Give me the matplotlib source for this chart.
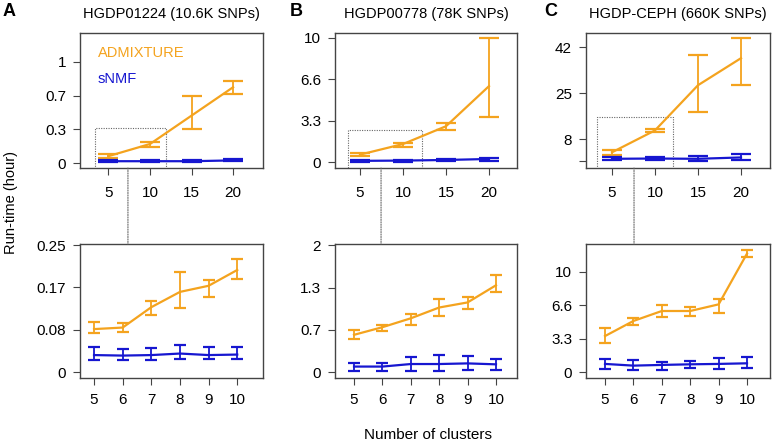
import matplotlib
matplotlib.use("Agg")
import numpy as np
import matplotlib.pyplot as plt
from matplotlib.patches import Rectangle, ConnectionPatch

plt.rcParams["font.family"] = ["Liberation Sans", "DejaVu Sans"]

# ==============================
# data (run-time in hours)
# ==============================
panel_letters = ["A", "B", "C"]
titles = ["HGDP01224 (10.6K SNPs)", "HGDP00778 (78K SNPs)", "HGDP-CEPH (660K SNPs)"]

k_top = [5, 10, 15, 20]
k_bot = [5, 6, 7, 8, 9, 10]

# top row: K = 5, 10, 15, 20
admix_top    = [[0.07, 0.19, 0.47, 0.75], [0.60, 1.45, 2.88, 6.10], [3.2, 11.3, 28.0, 38.0]]
admix_top_lo = [[0.055, 0.165, 0.34, 0.685], [0.50, 1.25, 2.61, 3.65], [2.3, 10.8, 18.0, 27.9]]
admix_top_hi = [[0.09, 0.21, 0.66, 0.81], [0.75, 1.55, 3.17, 10.0], [4.0, 12.0, 39.0, 45.4]]
snmf_top     = [[0.02, 0.02, 0.02, 0.028], [0.10, 0.12, 0.17, 0.25], [0.8, 0.9, 0.8, 1.3]]
snmf_top_lo  = [[0.01, 0.01, 0.01, 0.018], [0.03, 0.04, 0.08, 0.12], [0.3, 0.4, 0.0, 0.5]]
snmf_top_hi  = [[0.035, 0.035, 0.03, 0.038], [0.17, 0.20, 0.28, 0.35], [1.3, 1.5, 1.7, 2.5]]

# bottom row: zoom on K = 5..10
admix_bot    = [[0.085, 0.088, 0.128, 0.158, 0.170, 0.201],
                [0.59, 0.71, 0.85, 1.02, 1.10, 1.37],
                [3.6, 5.1, 6.09, 6.09, 6.75, 11.8]]
admix_bot_lo = [[0.077, 0.080, 0.112, 0.126, 0.147, 0.183],
                [0.53, 0.65, 0.74, 0.885, 0.995, 1.27],
                [2.95, 4.7, 5.53, 5.6, 5.86, 11.5]]
admix_bot_hi = [[0.0995, 0.096, 0.141, 0.198, 0.181, 0.223],
                [0.665, 0.74, 0.92, 1.15, 1.19, 1.53],
                [4.37, 5.36, 6.69, 6.46, 7.25, 12.2]]
snmf_bot     = [[0.034, 0.033, 0.034, 0.037, 0.034, 0.035],
                [0.09, 0.09, 0.13, 0.13, 0.14, 0.125],
                [0.83, 0.66, 0.73, 0.79, 0.83, 0.89]]
snmf_bot_lo  = [[0.024, 0.024, 0.024, 0.026, 0.026, 0.026],
                [0.026, 0.026, 0.026, 0.026, 0.037, 0.037],
                [0.33, 0.23, 0.23, 0.40, 0.30, 0.40]]
snmf_bot_hi  = [[0.049, 0.045, 0.048, 0.054, 0.049, 0.050],
                [0.15, 0.15, 0.246, 0.27, 0.26, 0.21],
                [1.32, 1.22, 1.06, 1.16, 1.39, 1.56]]

top_yticks = [[0, 1/3, 2/3, 1], [0, 10/3, 20/3, 10], [0, 8, 25, 42]]
top_yticklabels = [["0", "0.3", "0.7", "1"], ["0", "3.3", "6.6", "10"], ["", "8", "25", "42"]]
bot_yticks = [[0, 1/12, 1/6, 0.25], [0, 2/3, 4/3, 2], [0, 10/3, 20/3, 10]]
bot_yticklabels = [["0", "0.08", "0.17", "0.25"], ["0", "0.7", "1.3", "2"], ["0", "3.3", "6.6", "10"]]

# ==============================
# layout (pixels of a 772x442 canvas)
# ==============================
W, H = 772, 442
lefts = [80, 335, 586]
widths = [183, 182, 184]
top_y0, top_y1 = 33, 168
bot_y0, bot_y1 = 244, 378

xlim_top = [(1.57, 23.6), (2.09, 23.26), (1.98, 23.37)]
ylim_top = [(-0.047, 1.285), (-0.475, 10.37), (-2.6, 47.3)]
xlim_bot = [(4.51, 10.9), (4.33, 10.74), (4.33, 10.81)]
ylim_bot = [(-0.011, 0.252), (-0.09, 2.02), (-0.57, 12.75)]

zoom_box = [(3.38, 11.93, 0.35), (3.6, 12.2, 2.6), (3.26, 12.1, 16.4)]
link_frac = [0.262, 0.253, 0.261]

ORANGE = "#F4A31E"
BLUE = "#1616D0"
FRAME = "#444444"
GREY = "#666666"


def style_axes(ax, pad_x):
    for s in ax.spines.values():
        s.set_color(FRAME)
        s.set_linewidth(1.0)
    ax.tick_params(direction="out", length=5, width=0.8, color=FRAME, labelsize=11)
    ax.tick_params(axis="x", pad=pad_x)
    ax.tick_params(axis="y", pad=5)


fig = plt.figure(figsize=(W / 100, H / 100), dpi=100)

for i in range(3):
    ax_t = fig.add_axes([lefts[i] / W, 1 - top_y1 / H, widths[i] / W, (top_y1 - top_y0) / H])
    ax_b = fig.add_axes([lefts[i] / W, 1 - bot_y1 / H, widths[i] / W, (bot_y1 - bot_y0) / H])

    # ---- top panel ----
    m, lo, hi = np.array(admix_top[i]), np.array(admix_top_lo[i]), np.array(admix_top_hi[i])
    ax_t.errorbar(k_top, m, yerr=[m - lo, hi - m], color=ORANGE, lw=1.6,
                  elinewidth=1.3, capsize=7, capthick=1.6)
    m, lo, hi = np.array(snmf_top[i]), np.array(snmf_top_lo[i]), np.array(snmf_top_hi[i])
    ax_t.errorbar(k_top, m, yerr=[m - lo, hi - m], color=BLUE, lw=1.6,
                  elinewidth=1.3, capsize=7, capthick=1.6)

    ax_t.set_xlim(*xlim_top[i])
    ax_t.set_ylim(*ylim_top[i])
    ax_t.set_xticks(k_top)
    ax_t.set_yticks(top_yticks[i])
    ax_t.set_yticklabels(top_yticklabels[i])
    style_axes(ax_t, 8)
    ax_t.set_title(titles[i], fontsize=10.5, pad=11)

    # dotted zoom frame
    x0, x1, ytop = zoom_box[i]
    yb = ylim_top[i][0] - 1
    ax_t.add_patch(Rectangle((x0, yb), x1 - x0, ytop - yb, fill=False,
                             ls=(0, (1, 1.2)), lw=0.8, ec=GREY, clip_on=True))

    # ---- bottom panel ----
    m, lo, hi = np.array(admix_bot[i]), np.array(admix_bot_lo[i]), np.array(admix_bot_hi[i])
    ax_b.errorbar(k_bot, m, yerr=[m - lo, hi - m], color=ORANGE, lw=1.6,
                  elinewidth=1.3, capsize=4.5, capthick=1.6)
    m, lo, hi = np.array(snmf_bot[i]), np.array(snmf_bot_lo[i]), np.array(snmf_bot_hi[i])
    ax_b.errorbar(k_bot, m, yerr=[m - lo, hi - m], color=BLUE, lw=1.6,
                  elinewidth=1.3, capsize=4.5, capthick=1.6)

    ax_b.set_xlim(*xlim_bot[i])
    ax_b.set_ylim(*ylim_bot[i])
    ax_b.set_xticks(k_bot)
    ax_b.set_yticks(bot_yticks[i])
    ax_b.set_yticklabels(bot_yticklabels[i])
    style_axes(ax_b, 6)

    # dotted link between the two panels
    con = ConnectionPatch(xyA=(link_frac[i], 0), coordsA=ax_t.transAxes,
                          xyB=(link_frac[i], 1), coordsB=ax_b.transAxes,
                          ls=(0, (1, 1.2)), lw=0.8, color=GREY)
    fig.add_artist(con)

    if i == 0:
        ax_t.text(0.098, 0.85, "ADMIXTURE", transform=ax_t.transAxes, color=ORANGE,
                  fontsize=10.5, va="center", ha="left")
        ax_t.text(0.098, 0.66, "sNMF", transform=ax_t.transAxes, color=BLUE,
                  fontsize=10.5, va="center", ha="left")

# panel letters
for x, letter in zip([9, 296, 551], panel_letters):
    fig.text(x / W, 1 - 12 / H, letter, fontsize=13, fontweight="bold", ha="center", va="center")

fig.text(428 / W, 1 - 435 / H, "Number of clusters", fontsize=11, ha="center", va="center")
fig.text(11 / W, 1 - 203 / H, "Run-time (hour)", fontsize=10.5, rotation=90, ha="center", va="center")

fig.savefig("out.png", dpi=100)
